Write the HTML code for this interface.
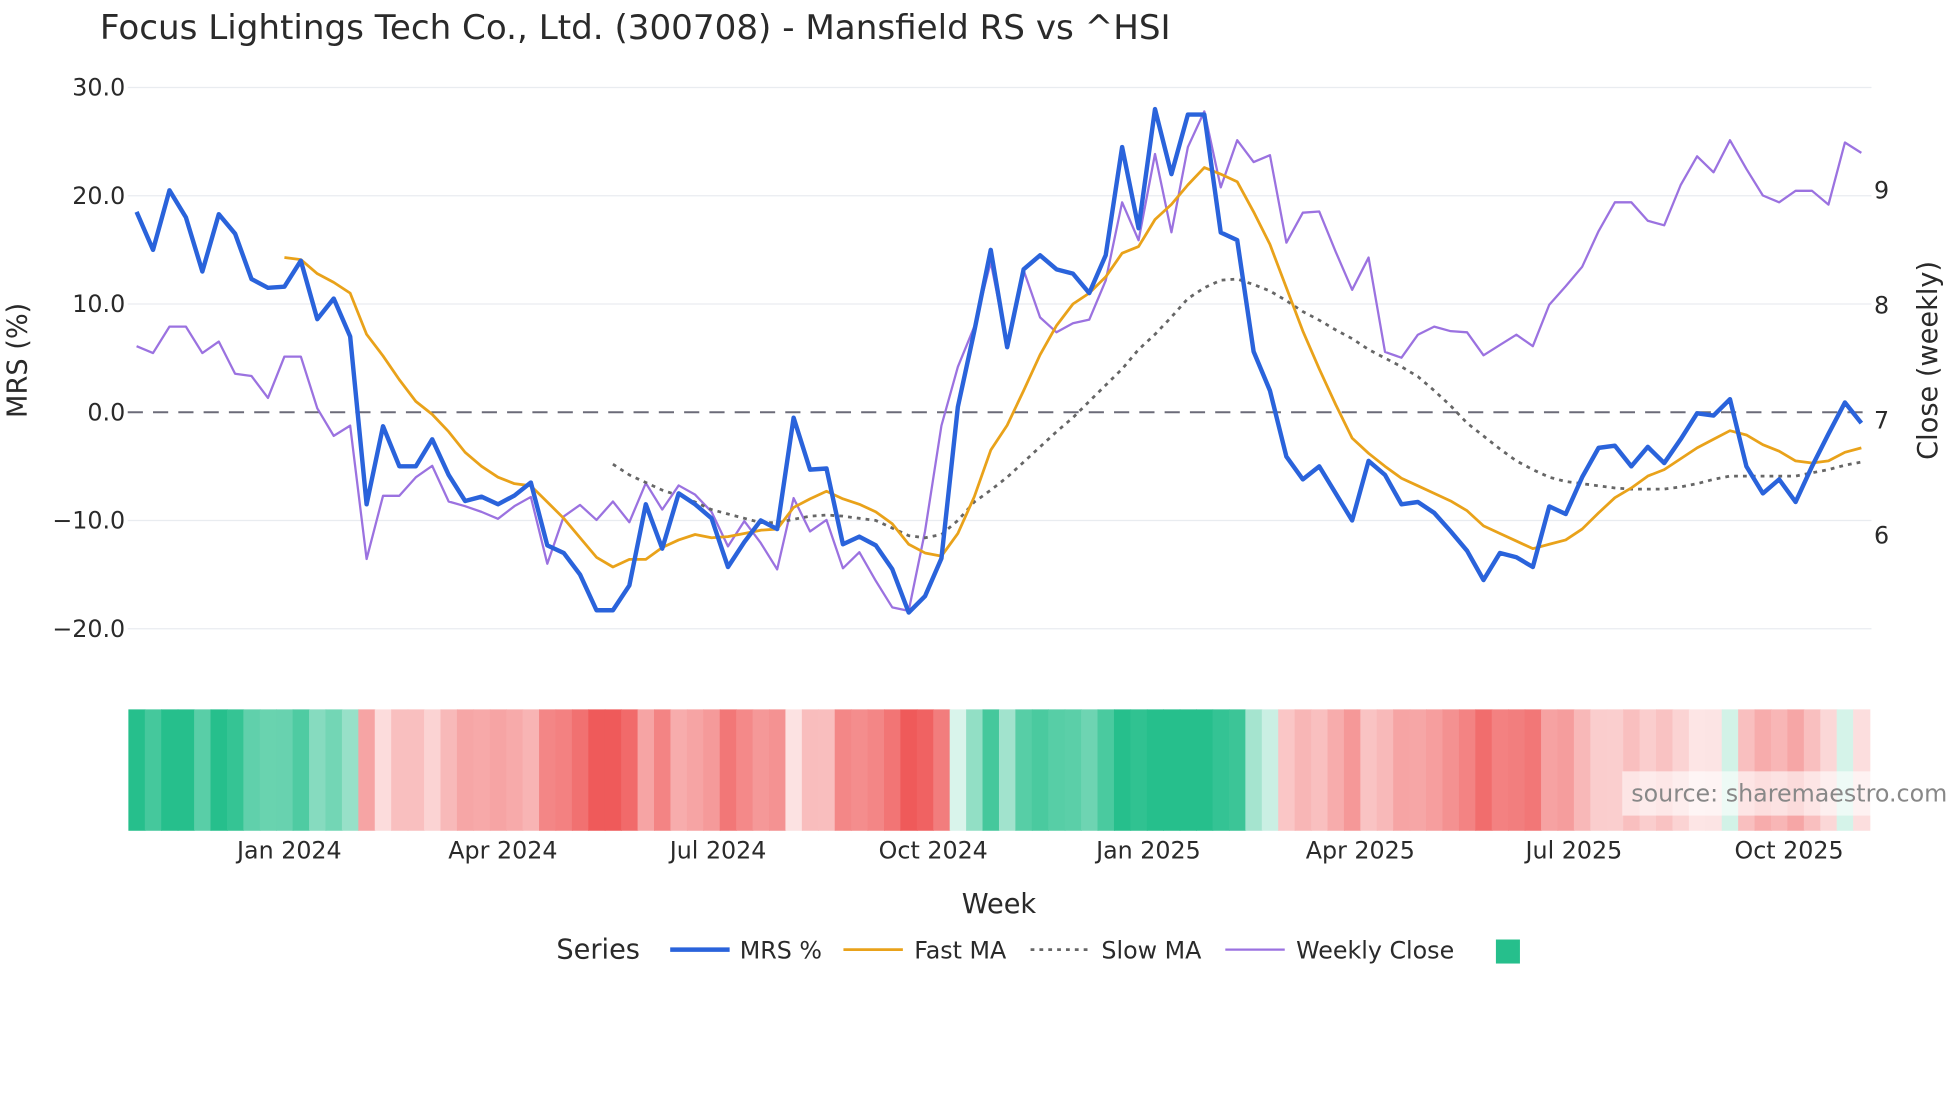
<!DOCTYPE html>
<html><head><meta charset="utf-8"><style>
html,body{margin:0;padding:0;background:#fff}
svg{display:block;font-family:"DejaVu Sans","Liberation Sans",sans-serif}
</style></head><body>
<svg id="chart" width="1960" height="1102" viewBox="0 0 1550 871.5" xmlns="http://www.w3.org/2000/svg">
<text x="79" y="31" font-size="27" fill="#2a2a2a">Focus Lightings Tech Co., Ltd. (300708) - Mansfield RS vs ^HSI</text>
<g id="grid"></g><g id="heat"></g><g id="lines"></g><g id="axes"></g>
<text transform="translate(21,285) rotate(-90)" text-anchor="middle" font-size="21.5" fill="#2a2a2a">MRS (%)</text>
<text transform="translate(1532,285) rotate(-90)" text-anchor="middle" font-size="21.5" fill="#2a2a2a">Close (weekly)</text>
<text x="790" y="722" text-anchor="middle" font-size="21.5" fill="#2a2a2a">Week</text>
<rect x="1283" y="610" width="267" height="35" fill="#fff" opacity="0.6"/>
<text x="1290" y="634" font-size="18.8" fill="#888">source: sharemaestro.com</text>
<g font-size="18.8" fill="#2a2a2a">
<text x="440" y="758" font-size="21.5">Series</text>
<g><line x1="530" y1="751" x2="577" y2="751" stroke="#2a63db" stroke-width="3.5"/><text x="585" y="758">MRS %</text></g>
<g><line x1="667" y1="751" x2="714" y2="751" stroke="#e9a21a" stroke-width="2.2"/><text x="723" y="758">Fast MA</text></g>
<g><line x1="815" y1="751" x2="860" y2="751" stroke="#666" stroke-width="2.2" stroke-dasharray="3,4"/><text x="871" y="758">Slow MA</text></g>
<g><line x1="969" y1="751" x2="1016" y2="751" stroke="#9b72e0" stroke-width="1.8"/><text x="1025" y="758">Weekly Close</text></g>
<rect x="1183" y="743" width="19" height="19" fill="#26bf8c"/>
</g>
</svg>
<script>
const mrs=[18.5,15,20.5,18,13,18.3,16.5,12.3,11.5,11.6,14,8.6,10.5,7,-8.5,-1.3,-5,-5,-2.5,-5.8,-8.2,-7.8,-8.5,-7.7,-6.5,-12.3,-13,-15,-18.3,-18.3,-16,-8.5,-12.6,-7.5,-8.5,-9.8,-14.3,-12,-10,-10.8,-0.5,-5.3,-5.2,-12.2,-11.5,-12.3,-14.5,-18.5,-17,-13.5,0.5,7.5,15,6,13.2,14.5,13.2,12.8,11,14.5,24.5,17,28,22,27.5,27.5,16.6,15.9,5.6,2,-4.1,-6.2,-5,-7.5,-10,-4.5,-5.8,-8.5,-8.3,-9.3,-11,-12.8,-15.5,-13,-13.4,-14.3,-8.7,-9.4,-6,-3.3,-3.1,-5,-3.2,-4.7,-2.5,-0.1,-0.3,1.2,-5,-7.5,-6.2,-8.3,-5,-2,0.9,-1];
const fastMA=[null,null,null,null,null,null,null,null,null,14.3,14.1,12.8,12,11,7.2,5.2,3,1,-0.2,-1.8,-3.7,-5,-6,-6.6,-6.8,-8.3,-9.8,-11.6,-13.4,-14.3,-13.6,-13.6,-12.5,-11.8,-11.3,-11.6,-11.5,-11.2,-10.9,-10.8,-8.8,-8,-7.3,-8,-8.5,-9.2,-10.3,-12.2,-13,-13.3,-11.2,-7.8,-3.5,-1.2,2,5.3,8,10,11,12.5,14.7,15.3,17.8,19.2,21,22.6,22,21.3,18.5,15.5,11.5,7.5,4,0.7,-2.4,-3.8,-5,-6.1,-6.8,-7.5,-8.2,-9.1,-10.5,-11.2,-11.9,-12.6,-12.2,-11.8,-10.8,-9.3,-7.9,-7,-5.9,-5.3,-4.3,-3.3,-2.5,-1.7,-2.1,-3,-3.6,-4.5,-4.7,-4.5,-3.7,-3.3];
const slowMA=[null,null,null,null,null,null,null,null,null,null,null,null,null,null,null,null,null,null,null,null,null,null,null,null,null,null,null,null,null,-4.8,-5.8,-6.5,-7.2,-7.7,-8.3,-9,-9.4,-9.8,-10.2,-10.2,-9.9,-9.6,-9.5,-9.6,-9.8,-10,-10.7,-11.4,-11.6,-11.3,-10,-8.3,-7.2,-6,-4.6,-3.2,-1.8,-0.5,1,2.5,4,5.8,7.2,8.8,10.5,11.5,12.2,12.3,11.8,11.2,10.3,9.3,8.5,7.6,6.8,5.8,5,4.2,3.3,2,0.6,-1,-2.2,-3.4,-4.5,-5.3,-6,-6.4,-6.6,-6.8,-7,-7.1,-7.1,-7.1,-6.9,-6.6,-6.2,-5.9,-5.9,-5.9,-5.9,-5.9,-5.6,-5.3,-4.9,-4.6];
const closeW=[7.64,7.58,7.81,7.81,7.58,7.68,7.4,7.38,7.19,7.55,7.55,7.1,6.86,6.95,5.79,6.34,6.34,6.5,6.6,6.29,6.25,6.2,6.14,6.25,6.33,5.75,6.16,6.26,6.13,6.29,6.11,6.45,6.22,6.43,6.35,6.2,5.9,6.12,5.93,5.7,6.32,6.03,6.13,5.71,5.85,5.6,5.37,5.34,6.03,6.95,7.46,7.81,8.37,7.65,8.3,7.89,7.76,7.84,7.87,8.21,8.89,8.56,9.31,8.63,9.37,9.68,9.02,9.43,9.24,9.3,8.54,8.8,8.81,8.46,8.13,8.41,7.59,7.54,7.74,7.81,7.77,7.76,7.56,7.65,7.74,7.64,8,8.16,8.33,8.64,8.89,8.89,8.73,8.69,9.04,9.29,9.15,9.43,9.18,8.95,8.89,8.99,8.99,8.87,9.41,9.32];
const yTicks=[30,20,10,0,-10,-20];
const y2Ticks=[9,8,7,6];
const xTickLabels=["Jan 2024","Apr 2024","Jul 2024","Oct 2024","Jan 2025","Apr 2025","Jul 2025","Oct 2025"];
const xTickWeeks=[9.3,22.3,35.4,48.5,61.6,74.5,87.5,100.6];

const NS="http://www.w3.org/2000/svg";
const X0=108,X1=1472,L=101,R=1480;
const n=mrs.length;
const xs=i=>X0+(X1-X0)*i/(n-1);
const ys=v=>326-v*8.56;
const ys2=v=>332-(v-7)*91;
function mk(t,a,p){const e=document.createElementNS(NS,t);for(const k in a)e.setAttribute(k,a[k]);document.getElementById(p).appendChild(e);return e;}

yTicks.forEach(t=>{
  const g=mk('line',{x1:L,x2:R,y1:ys(t),y2:ys(t),stroke:t===0?'none':'#e9ecf0','stroke-width':1},'grid');
  
  
  const tx=mk('text',{x:99,y:ys(t)+6.5,'text-anchor':'end','font-size':18.8,fill:'#2a2a2a'},'axes');
  tx.textContent=(t<0?'\u2212':'')+Math.abs(t).toFixed(1);
  
  
});
y2Ticks.forEach(t=>{
  const tx=mk('text',{x:1482,y:ys2(t)+7,'font-size':18.8,fill:'#2a2a2a'},'axes');
  tx.textContent=t;
  
  
});
xTickLabels.forEach((s,k)=>{
  const tx=mk('text',{x:xs(xTickWeeks[k]),y:679,'text-anchor':'middle','font-size':18.8,fill:'#2a2a2a'},'axes');
  tx.textContent=s;
  
  
});
const zl=mk('line',{x1:L,x2:R,y1:ys(0),y2:ys(0),stroke:'#6b6b78','stroke-width':1.6,'stroke-dasharray':'12,8'},'grid');



const step=(X1-X0)/(n-1);
function col(v){
  const a=Math.min(1,Math.abs(v)/18);
  const c=v>=0?[38,191,140]:[239,90,90];
  const m=k=>Math.round(255+(c[k]-255)*(0.15+0.85*a));
  return `rgb(${m(0)},${m(1)},${m(2)})`;
}
mrs.forEach((v,i)=>{
  const r=mk('rect',{x:xs(i)-step/2,y:561,width:step+0.6,height:96,fill:col(v)},'heat');
  
  
});

function path(arr,f){let d='',on=false;arr.forEach((v,i)=>{if(v==null){on=false;return;}d+=(on?'L':'M')+xs(i).toFixed(1)+','+f(v).toFixed(1);on=true;});return d;}
const pc=mk('path',{d:path(closeW,ys2),fill:'none',stroke:'#9b72e0','stroke-width':1.8,'stroke-linejoin':'round'},'lines');


const ps=mk('path',{d:path(slowMA,ys),fill:'none',stroke:'#666','stroke-width':2.2,'stroke-dasharray':'3,4'},'lines');


const pf=mk('path',{d:path(fastMA,ys),fill:'none',stroke:'#e9a21a','stroke-width':2.2,'stroke-linejoin':'round'},'lines');


const pm=mk('path',{d:path(mrs,ys),fill:'none',stroke:'#2a63db','stroke-width':3.5,'stroke-linejoin':'round'},'lines');


</script>
</body></html>
